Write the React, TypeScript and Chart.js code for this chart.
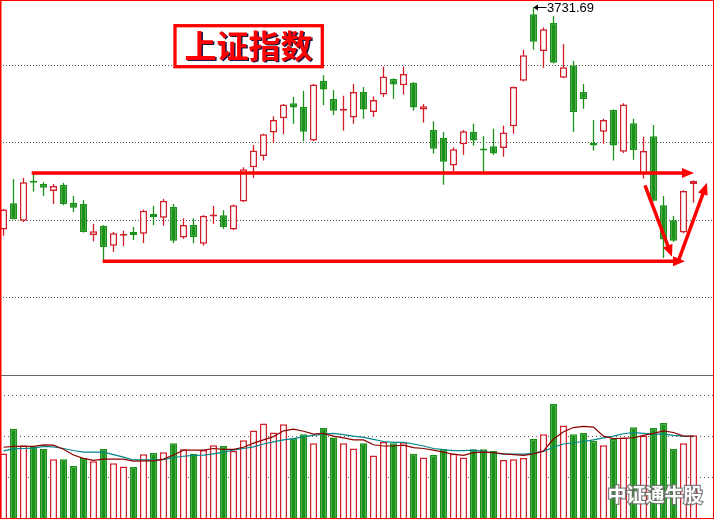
import { useEffect, useRef } from 'react';
import { Chart, registerables } from 'chart.js';

Chart.register(...registerables);

// Daily candles, oldest first
const OPEN = [3374, 3416, 3388, 3452, 3447, 3436, 3446, 3417, 3415, 3365,
  3380, 3348, 3364, 3370, 3367, 3399, 3393, 3410, 3361, 3381,
  3351, 3395, 3397, 3374, 3419, 3474, 3492, 3530, 3553, 3577,
  3571, 3517, 3613, 3584, 3565, 3554, 3595, 3563, 3591, 3616,
  3606, 3610, 3567, 3534, 3521, 3477, 3511, 3531, 3503, 3508,
  3505, 3540, 3613, 3720, 3661, 3706, 3618, 3638, 3595, 3513,
  3531, 3566, 3499, 3545, 3464, 3524, 3413, 3389, 3369, 3447];

const HIGH = [3407, 3455, 3457, 3463, 3450, 3447, 3449, 3428, 3421, 3383,
  3381, 3370, 3372, 3378, 3406, 3412, 3423, 3415, 3392, 3392,
  3397, 3412, 3405, 3414, 3474, 3510, 3528, 3556, 3576, 3587,
  3597, 3608, 3622, 3598, 3589, 3608, 3603, 3588, 3636, 3617,
  3636, 3611, 3576, 3548, 3531, 3506, 3534, 3544, 3524, 3536,
  3541, 3604, 3663, 3731.69, 3699, 3717, 3672, 3645, 3608, 3550,
  3552, 3567, 3577, 3552, 3523, 3542, 3428, 3396, 3437, 3453];

const LOW = [3364, 3390, 3386, 3435, 3428, 3415, 3413, 3402, 3369, 3355,
  3323, 3338, 3347, 3357, 3352, 3381, 3380, 3352, 3359, 3352,
  3348, 3383, 3375, 3373, 3418, 3457, 3485, 3513, 3527, 3544,
  3516, 3516, 3574, 3558, 3533, 3544, 3552, 3555, 3587, 3584,
  3591, 3565, 3546, 3496, 3446, 3468, 3494, 3509, 3465, 3494,
  3491, 3528, 3612, 3663, 3634, 3641, 3617, 3531, 3568, 3501,
  3512, 3485, 3497, 3486, 3456, 3419, 3328, 3354, 3368, 3417];

const CLOSE = [3406, 3391, 3450, 3449, 3441, 3444, 3415, 3409, 3370, 3371,
  3346, 3368, 3365, 3365, 3404, 3394, 3420, 3356, 3381, 3362,
  3396, 3396, 3378, 3413, 3471, 3501, 3527, 3550, 3575, 3570,
  3531, 3607, 3599, 3565, 3566, 3595, 3567, 3582, 3620, 3607,
  3624, 3570, 3572, 3504, 3483, 3503, 3532, 3517, 3501, 3496,
  3530, 3603, 3654, 3676, 3696, 3642, 3635, 3563, 3584, 3509,
  3550, 3509, 3575, 3502, 3500, 3420, 3358, 3356, 3436, 3452];

// Turnover volume and its 5 / 10 day averages
const VOLUME = [160, 220, 180, 177, 171, 146, 146, 129, 149, 141,
  171, 136, 128, 127, 158, 161, 163, 185, 170, 159,
  168, 180, 178, 166, 192, 216, 233, 211, 231, 197,
  207, 185, 222, 199, 185, 172, 185, 155, 188, 185,
  187, 159, 150, 156, 170, 159, 150, 170, 170, 166,
  144, 146, 149, 195, 207, 281, 228, 207, 210, 190,
  180, 195, 199, 224, 203, 222, 234, 171, 185, 204];

const VOL_MA5 = [175, 177, 177, 177, 181, 180, 170, 156, 148, 143,
  146, 146, 146, 141, 142, 142, 146, 156, 168, 168,
  168, 172, 170, 170, 175, 185, 193, 201, 215, 219,
  214, 207, 209, 202, 198, 193, 193, 181, 178, 178,
  180, 174, 172, 168, 163, 158, 155, 162, 163, 162,
  159, 157, 155, 159, 166, 195, 213, 223, 226, 224,
  202, 196, 197, 198, 204, 209, 215, 211, 202, 202];

const VOL_MA10 = [166, 171, 172, 173, 177, 176, 172, 167, 163, 163,
  163, 157, 151, 144, 144, 144, 145, 150, 153, 155,
  156, 159, 163, 168, 172, 176, 183, 188, 193, 196,
  201, 204, 207, 209, 206, 202, 199, 194, 189, 187,
  187, 183, 178, 172, 169, 167, 167, 168, 165, 161,
  158, 158, 158, 160, 165, 175, 183, 186, 189, 193,
  198, 202, 208, 211, 209, 207, 207, 204, 202, 201];

// Horizontal guide levels
const PRICE_GRID = [3636.9, 3513.1, 3389.2, 3265.4];
const VOLUME_GRID = [100, 200, 300];
const VOLUME_PANEL_TOP = 351.2;

const PEAK_INDEX = 53;
const PEAK_LABEL = '3731.69';
const TITLE = '上证指数';
const WATERMARK = '中证通牛股';

const RESISTANCE = 3465;
const SUPPORT = 3323;
// Hand-drawn trend marks in (candle index, price) space
const MARKS: { from: [number, number]; to: [number, number] }[] = [
  { from: [2.82, RESISTANCE], to: [69.05, RESISTANCE] },
  { from: [9.92, SUPPORT], to: [68.15, SUPPORT] },
  { from: [64.15, 3445], to: [66.85, 3330] },
  { from: [67.45, 3322], to: [70.35, 3449] },
];

const RED = '#d21e28';
const GREEN = '#1a921a';
const W = 715;
const H = 519;

function drawArrow(ctx: CanvasRenderingContext2D, x1: number, y1: number, x2: number, y2: number) {
  const head = 12;
  const half = 5;
  const dx = x2 - x1;
  const dy = y2 - y1;
  const len = Math.hypot(dx, dy);
  const ux = dx / len;
  const uy = dy / len;
  const bx = x2 - ux * head;
  const by = y2 - uy * head;
  ctx.beginPath();
  ctx.moveTo(x1, y1);
  ctx.lineTo(bx + ux, by + uy);
  ctx.stroke();
  ctx.beginPath();
  ctx.moveTo(x2, y2);
  ctx.lineTo(bx - uy * half, by + ux * half);
  ctx.lineTo(bx + uy * half, by - ux * half);
  ctx.closePath();
  ctx.fill();
}

const overlayPlugin = {
  id: 'overlay',
  beforeDatasetsDraw(chart: any) {
    const { ctx, chartArea, scales } = chart;
    const y = Math.round(scales.vol.getPixelForValue(VOLUME_PANEL_TOP)) + 0.5;
    ctx.save();
    ctx.strokeStyle = '#666';
    ctx.lineWidth = 1;
    ctx.beginPath();
    ctx.moveTo(chartArea.left, y);
    ctx.lineTo(chartArea.right, y);
    ctx.stroke();
    ctx.restore();
  },
  afterDraw(chart: any) {
    const { ctx, chartArea, scales } = chart;
    const xs = scales.x;
    const ys = scales.price;
    ctx.save();

    // red trend lines
    ctx.strokeStyle = '#ff0000';
    ctx.fillStyle = '#ff0000';
    ctx.lineWidth = 3.5;
    ctx.lineCap = 'butt';
    for (const m of MARKS) {
      drawArrow(
        ctx,
        xs.getPixelForValue(m.from[0]), ys.getPixelForValue(m.from[1]),
        xs.getPixelForValue(m.to[0]), ys.getPixelForValue(m.to[1]),
      );
    }

    // title box
    const left = chartArea.left;
    const top = chartArea.top;
    ctx.lineWidth = 3.3;
    ctx.strokeStyle = '#ff0000';
    ctx.strokeRect(left + 175, top + 25.7, 147.3, 41);
    ctx.font = 'bold 32px "Noto Sans CJK SC", sans-serif';
    ctx.textAlign = 'center';
    ctx.textBaseline = 'middle';
    ctx.shadowColor = 'rgba(0,0,50,0.9)';
    ctx.shadowOffsetX = 1.5;
    ctx.shadowOffsetY = 1;
    ctx.fillStyle = '#ff0000';
    ctx.fillText(TITLE, left + 248.5, top + 45.5);
    ctx.shadowColor = 'transparent';
    ctx.shadowOffsetX = 0;
    ctx.shadowOffsetY = 0;

    // peak label
    const px = xs.getPixelForValue(PEAK_INDEX);
    const py = ys.getPixelForValue(HIGH[PEAK_INDEX]);
    ctx.fillStyle = '#000';
    ctx.strokeStyle = '#000';
    ctx.lineWidth = 1;
    ctx.beginPath();
    ctx.moveTo(px + 3, Math.round(py) + 0.5);
    ctx.lineTo(px + 13, Math.round(py) + 0.5);
    ctx.stroke();
    ctx.beginPath();
    ctx.moveTo(px, Math.round(py) + 0.5);
    ctx.lineTo(px + 4.5, Math.round(py) - 2.5);
    ctx.lineTo(px + 4.5, Math.round(py) + 3.5);
    ctx.closePath();
    ctx.fill();
    ctx.font = '13px "Liberation Sans", Arial, sans-serif';
    ctx.textAlign = 'left';
    ctx.textBaseline = 'middle';
    ctx.fillText(PEAK_LABEL, px + 13.5, py + 1);

    // watermark
    ctx.font = 'bold 19px "Noto Sans CJK SC", sans-serif';
    ctx.textAlign = 'center';
    ctx.textBaseline = 'middle';
    ctx.lineWidth = 2.5;
    ctx.strokeStyle = 'rgba(110,110,110,0.85)';
    ctx.strokeText(WATERMARK, left + 655, chartArea.bottom - 24);
    ctx.fillStyle = '#ffffff';
    ctx.fillText(WATERMARK, left + 655, chartArea.bottom - 24);

    // frame
    ctx.fillStyle = '#ff0000';
    ctx.fillRect(0, 0, 714, 1);
    ctx.fillRect(0, 0, 1.5, H);
    ctx.fillRect(713, 0, 1, H);
    ctx.fillRect(0, 518, 714, 1);
    ctx.restore();
  },
};

export default function App() {
  const ref = useRef<HTMLCanvasElement>(null);

  useEffect(() => {
    document.body.style.margin = '0';
    const idx = OPEN.map((_, i) => i);
    const up = (i: number) => CLOSE[i] >= OPEN[i];

    const chart = new Chart(ref.current as HTMLCanvasElement, {
      type: 'bar',
      data: {
        datasets: [
          {
            type: 'line',
            label: 'MA5',
            data: VOL_MA5.map((v, i) => ({ x: i, y: v })),
            yAxisID: 'vol',
            borderColor: '#8b0000',
            borderWidth: 1.2,
            pointRadius: 0,
            tension: 0,
            order: 0,
          },
          {
            type: 'line',
            label: 'MA10',
            data: VOL_MA10.map((v, i) => ({ x: i, y: v })),
            yAxisID: 'vol',
            borderColor: '#00868b',
            borderWidth: 1.2,
            pointRadius: 0,
            tension: 0,
            order: 0,
          },
          {
            type: 'bar',
            label: 'body',
            data: idx.map((i) => ({ x: i, y: [OPEN[i], CLOSE[i]] })),
            yAxisID: 'price',
            barThickness: 7,
            grouped: false,
            borderSkipped: false,
            borderWidth: 1.5,
            inflateAmount: 0,
            minBarLength: 2,
            backgroundColor: idx.map((i) => (up(i) ? '#ffffff' : GREEN)),
            borderColor: idx.map((i) => (up(i) ? RED : GREEN)),
            order: 1,
          },
          {
            type: 'bar',
            label: 'volume',
            data: idx.map((i) => ({ x: i, y: VOLUME[i] })),
            yAxisID: 'vol',
            barThickness: 7,
            grouped: false,
            borderWidth: 1.5,
            borderSkipped: 'start',
            inflateAmount: 0,
            backgroundColor: idx.map((i) => (up(i) ? '#ffffff' : GREEN)),
            borderColor: idx.map((i) => (up(i) ? RED : GREEN)),
            order: 2,
          },
          {
            type: 'bar',
            label: 'wick',
            data: idx.map((i) => ({ x: i, y: [LOW[i], HIGH[i]] })),
            yAxisID: 'price',
            barThickness: 1.3,
            grouped: false,
            borderWidth: 0,
            inflateAmount: 0,
            backgroundColor: idx.map((i) => (up(i) ? RED : GREEN)),
            order: 3,
          },
        ] as any,
      },
      options: {
        responsive: false,
        animation: false,
        devicePixelRatio: 1,
        layout: { padding: { left: 0, right: 1, top: 0, bottom: 0 } },
        plugins: { legend: { display: false }, tooltip: { enabled: false } },
        scales: {
          x: { type: 'linear', min: -0.35, max: 71.05, offset: false, display: false, grid: { offset: false } },
          price: {
            type: 'linear',
            position: 'left',
            min: 2908.45,
            max: 3743,
            afterFit: (s: any) => { s.width = 0; },
            afterBuildTicks: (s: any) => { s.ticks = PRICE_GRID.map((v) => ({ value: v })); },
            ticks: { display: false },
            grid: { color: '#555', lineWidth: 1, drawTicks: false },
            border: { display: false, dash: [1, 2] },
          },
          vol: {
            type: 'linear',
            position: 'right',
            min: 0,
            max: 1265.85,
            afterFit: (s: any) => { s.width = 0; },
            afterBuildTicks: (s: any) => { s.ticks = VOLUME_GRID.map((v) => ({ value: v })); },
            ticks: { display: false },
            grid: { color: '#555', lineWidth: 1, drawTicks: false },
            border: { display: false, dash: [1, 3] },
          },
        },
      } as any,
      plugins: [overlayPlugin],
    });
    return () => chart.destroy();
  }, []);

  return (
    <div style={{ position: 'fixed', left: 0, top: 0, width: W, height: H, background: '#fff' }}>
      <canvas ref={ref} width={W} height={H} style={{ display: 'block' }} />
    </div>
  );
}
